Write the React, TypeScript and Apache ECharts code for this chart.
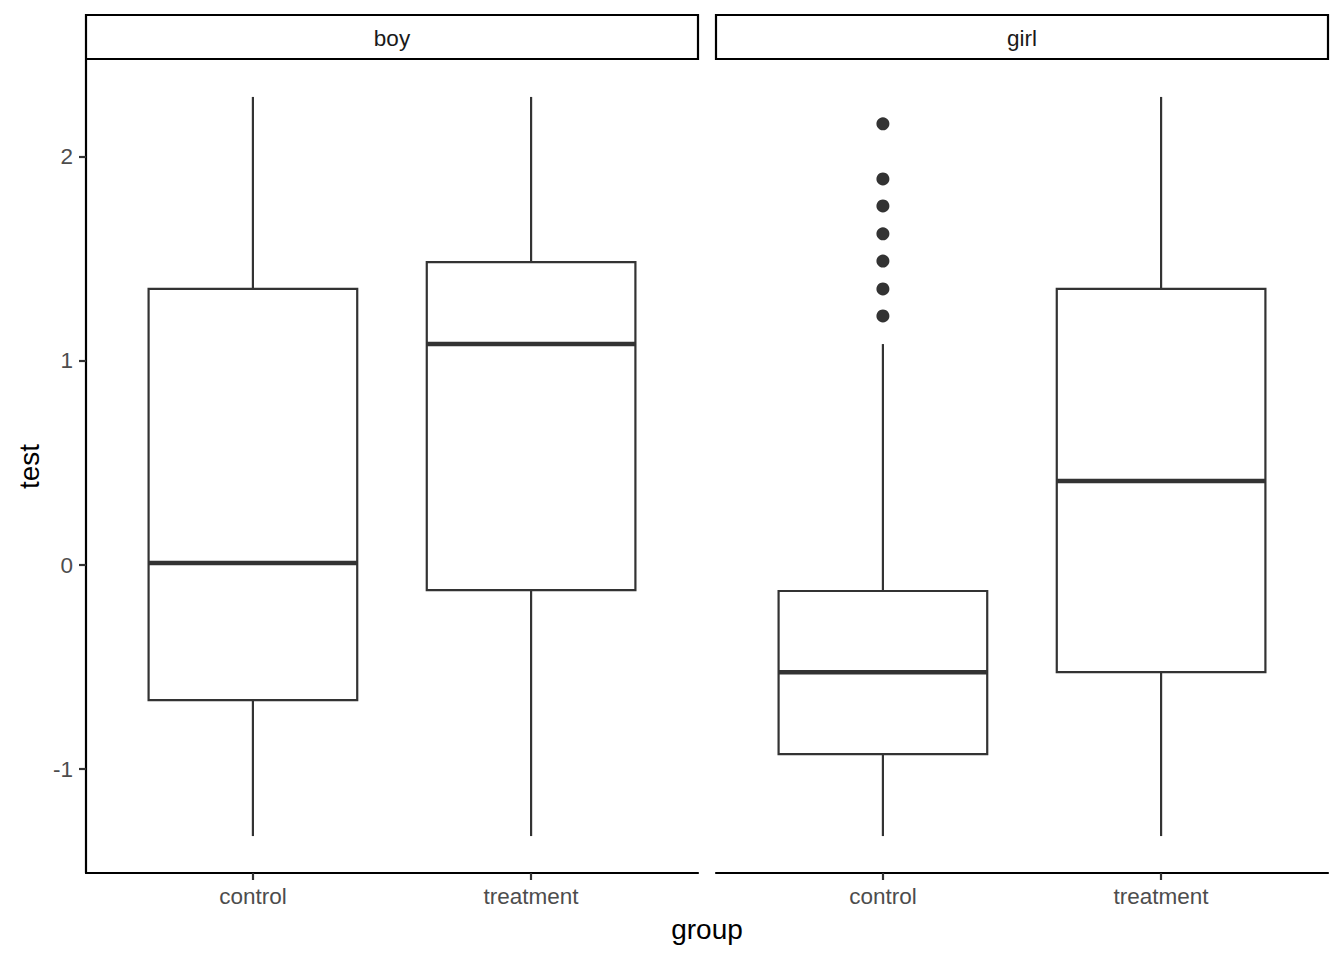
import React, { useEffect, useRef } from "react";
import * as echarts from "echarts";

const facets = ["boy", "girl"];
const categories = ["control", "treatment"];
// [lower whisker, Q1, median, Q3, upper whisker] per category
const boyStats = [
  [-1.328, -0.662, 0.01, 1.353, 2.294],
  [-1.328, -0.123, 1.083, 1.485, 2.294],
];
const girlStats = [
  [-1.328, -0.926, -0.525, -0.127, 1.083],
  [-1.328, -0.525, 0.412, 1.353, 2.294],
];
const girlControlOutliers = [2.162, 1.892, 1.76, 1.623, 1.49, 1.353, 1.221];
const yTicks = [-1, 0, 1, 2];

const FONT = "'Liberation Sans', Arial, Helvetica, sans-serif";
const INK = "#333333";

const PANEL_TOP = 60;
const PANEL_H = 813;
const PANEL_W = 612;
const PANEL_LEFT = [86, 716];

function renderBox(params: any, api: any) {
  const x = api.value(0);
  const lo = api.value(1);
  const q1 = api.value(2);
  const med = api.value(3);
  const q3 = api.value(4);
  const hi = api.value(5);
  const w = api.size([0.75, 0])[0];
  const pLo = api.coord([x, lo]);
  const pQ1 = api.coord([x, q1]);
  const pMed = api.coord([x, med]);
  const pQ3 = api.coord([x, q3]);
  const pHi = api.coord([x, hi]);
  const cx = pMed[0];
  return {
    type: "group",
    children: [
      {
        type: "line",
        shape: { x1: cx, y1: pQ3[1], x2: cx, y2: pHi[1] },
        style: { stroke: INK, lineWidth: 2.2 },
      },
      {
        type: "line",
        shape: { x1: cx, y1: pQ1[1], x2: cx, y2: pLo[1] },
        style: { stroke: INK, lineWidth: 2.2 },
      },
      {
        type: "rect",
        shape: { x: cx - w / 2, y: pQ3[1], width: w, height: pQ1[1] - pQ3[1] },
        style: { fill: "#ffffff", stroke: INK, lineWidth: 2.2 },
      },
      {
        type: "line",
        shape: { x1: cx - w / 2, y1: pMed[1], x2: cx + w / 2, y2: pMed[1] },
        style: { stroke: INK, lineWidth: 4.6 },
      },
    ],
  };
}

export default function App() {
  const ref = useRef<HTMLDivElement>(null);
  useEffect(() => {
    if (!ref.current) return;
    const chart = echarts.init(ref.current, null, { renderer: "svg" });
    const statsByFacet = [boyStats, girlStats];

    const grids = PANEL_LEFT.map((left) => ({
      left,
      top: PANEL_TOP,
      width: PANEL_W,
      height: PANEL_H,
      containLabel: false,
    }));

    const xAxes = PANEL_LEFT.map((_, i) => ({
      type: "value",
      gridIndex: i,
      min: 0.4,
      max: 2.6,
      axisLine: { show: true, onZero: false, lineStyle: { color: "#000000", width: 2.2 } },
      axisTick: {
        show: true,
        length: 7,
        customValues: [1, 2],
        lineStyle: { color: INK, width: 2.2 },
      },
      axisLabel: {
        show: true,
        customValues: [1, 2],
        margin: 12,
        formatter: (v: number) => categories[Math.round(v) - 1] ?? "",
        color: "#4D4D4D",
        fontSize: 22.5,
        fontFamily: FONT,
      },
      splitLine: { show: false },
    }));

    const yAxes = PANEL_LEFT.map((_, i) => ({
      type: "value",
      gridIndex: i,
      min: -1.509,
      max: 2.475,
      axisLine: { show: i === 0, onZero: false, lineStyle: { color: "#000000", width: 2.2 } },
      axisTick: {
        show: i === 0,
        length: 7,
        customValues: yTicks,
        lineStyle: { color: INK, width: 2.2 },
      },
      axisLabel: {
        show: i === 0,
        customValues: yTicks,
        margin: 13,
        color: "#4D4D4D",
        fontSize: 22.5,
        fontFamily: FONT,
      },
      splitLine: { show: false },
    }));

    const boxSeries = statsByFacet.map((stats, i) => ({
      type: "custom",
      xAxisIndex: i,
      yAxisIndex: i,
      renderItem: renderBox,
      encode: { x: 0, y: [1, 2, 3, 4, 5] },
      data: stats.map((s, k) => [k + 1, ...s]),
      z: 2,
    }));

    const graphics: any[] = [];
    facets.forEach((f, i) => {
      graphics.push({
        type: "rect",
        shape: { x: PANEL_LEFT[i], y: 15, width: PANEL_W, height: 44 },
        style: { fill: "#ffffff", stroke: "#000000", lineWidth: 2.2 },
      });
      graphics.push({
        type: "text",
        x: PANEL_LEFT[i] + PANEL_W / 2,
        y: 38,
        style: {
          text: f,
          fontSize: 22.5,
          fontFamily: FONT,
          fill: "#1A1A1A",
          textAlign: "center",
          textVerticalAlign: "middle",
        },
      });
    });
    graphics.push({
      type: "text",
      x: 29,
      y: PANEL_TOP + PANEL_H / 2,
      rotation: Math.PI / 2,
      style: {
        text: "test",
        fontSize: 28,
        fontFamily: FONT,
        fill: "#000000",
        textAlign: "center",
        textVerticalAlign: "middle",
      },
    });
    graphics.push({
      type: "text",
      x: (PANEL_LEFT[0] + PANEL_LEFT[1] + PANEL_W) / 2,
      y: 929,
      style: {
        text: "group",
        fontSize: 28,
        fontFamily: FONT,
        fill: "#000000",
        textAlign: "center",
        textVerticalAlign: "middle",
      },
    });

    chart.setOption({
      animation: false,
      backgroundColor: "#ffffff",
      grid: grids,
      xAxis: xAxes,
      yAxis: yAxes,
      graphic: graphics,
      series: [
        ...boxSeries,
        {
          type: "scatter",
          xAxisIndex: 1,
          yAxisIndex: 1,
          symbol: "circle",
          symbolSize: 13,
          itemStyle: { color: INK, opacity: 1 },
          data: girlControlOutliers.map((v) => [1, v]),
          z: 3,
        },
      ],
    });
    return () => chart.dispose();
  }, []);
  return (
    <div
      ref={ref}
      style={{ position: "absolute", left: 0, top: 0, width: 1344, height: 960 }}
    />
  );
}
